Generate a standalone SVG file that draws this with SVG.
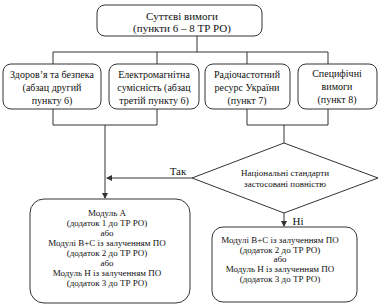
<svg xmlns="http://www.w3.org/2000/svg" width="382" height="306" viewBox="0 0 382 306">
<style>
.box{fill:#fff;stroke:#333;stroke-width:1}
.ln{fill:none;stroke:#333;stroke-width:1}
text{font-family:"Liberation Serif","Times New Roman",serif;fill:#111;text-anchor:middle}
.t1{font-size:11px}
.t2{font-size:10px}
.t3{font-size:9px}
</style>
<defs>
<marker id="ah" markerWidth="6" markerHeight="6" refX="5" refY="3" orient="auto" markerUnits="userSpaceOnUse">
<path d="M0,0 L6,3 L0,6 Z" fill="#333"/>
</marker>
</defs>
<g id="connectors">
<path class="ln" d="M197,36 V52 M53,52 H328 M53,52 V64 M157,52 V64 M247,52 V64 M328,52 V64"/>
<path class="ln" d="M53,109 V125 H157 V109 M105,125 V198" marker-end="url(#ah)"/>
<path class="ln" d="M247,109 V125 H328 V109 M284,125 V143"/>
<path class="ln" d="M192,178 H107" marker-end="url(#ah)"/>
<path class="ln" d="M284,213 V226" marker-end="url(#ah)"/>
<text class="t1" x="178" y="175">Так</text>
<text class="t1" x="298" y="225">Ні</text>
</g>
<g id="top">
<rect class="box" x="97" y="5" width="165" height="31" rx="8"/>
<text class="t1" x="182" y="20">Суттєві вимоги</text>
<text class="t1" x="182" y="32">(пункти 6 – 8 ТР РО)</text>
</g>
<g id="health">
<rect class="box" x="3" y="64" width="98" height="45" rx="8"/>
<text class="t2" x="52" y="78">Здоров’я та безпека</text>
<text class="t2" x="52" y="91">(абзац другий</text>
<text class="t2" x="52" y="104">пункту 6)</text>
</g>
<g id="emc">
<rect class="box" x="109" y="64" width="90" height="45" rx="8"/>
<text class="t2" x="154" y="78">Електромагнітна</text>
<text class="t2" x="154" y="91">сумісність (абзац</text>
<text class="t2" x="154" y="104">третій пункту 6)</text>
</g>
<g id="radio">
<rect class="box" x="205" y="64" width="85" height="45" rx="8"/>
<text class="t2" x="247" y="78">Радіочастотний</text>
<text class="t2" x="247" y="91">ресурс України</text>
<text class="t2" x="247" y="104">(пункт 7)</text>
</g>
<g id="specific">
<rect class="box" x="298" y="64" width="79" height="45" rx="8"/>
<text class="t2" x="337" y="77">Специфічні</text>
<text class="t2" x="337" y="90">вимоги</text>
<text class="t2" x="337" y="103">(пункт 8)</text>
</g>
<g id="decision">
<polygon class="box" points="284,143 378,178 284,213 192,178"/>
<text class="t3" x="285" y="176">Національні стандарти</text>
<text class="t3" x="285" y="187">застосовані повністю</text>
</g>
<g id="moduleA">
<rect class="box" x="30" y="199" width="160" height="104" rx="14"/>
<text class="t3" x="107" y="216">Модуль А</text>
<text class="t3" x="107" y="226">(додаток 1 до ТР РО)</text>
<text class="t3" x="107" y="236">або</text>
<text class="t3" x="107" y="246">Модулі В+С із залученням ПО</text>
<text class="t3" x="107" y="256">(додаток 2 до ТР РО)</text>
<text class="t3" x="107" y="266">або</text>
<text class="t3" x="107" y="276">Модуль Н із залученням ПО</text>
<text class="t3" x="107" y="286">(додаток 3 до ТР РО)</text>
</g>
<g id="moduleBC">
<rect class="box" x="212" y="227" width="145" height="75" rx="11"/>
<text class="t3" x="280" y="243">Модулі В+С із залученням ПО</text>
<text class="t3" x="280" y="253">(додаток 2 до ТР РО)</text>
<text class="t3" x="280" y="262">або</text>
<text class="t3" x="280" y="272">Модуль Н із залученням ПО</text>
<text class="t3" x="280" y="282">(додаток 3 до ТР РО)</text>
</g>
</svg>
